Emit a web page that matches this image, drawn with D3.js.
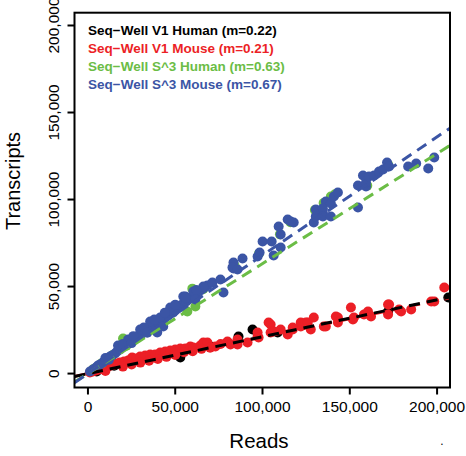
<!DOCTYPE html>
<html>
<head>
<meta charset="utf-8">
<script src="https://d3js.org/d3.v7.min.js"></script>
<style>
  body { margin: 0; background: #fff; }
  text { font-family: "Liberation Sans", Arial, sans-serif; }
</style>
</head>
<body>
<div id="chart"></div>
<script>
// series: [reads, transcripts]
var v1Human = [[5000,1200],[15000,4500],[30000,8000],[45000,11000],[52900,9200],[70150,15525],
  [86250,21275],[94300,25300],[108675,23575],[171925,35650],[206425,43700]];

var v1Mouse = [[1150,575],[2875,1150],[4600,1725],[6325,2300],[8050,2875],[9775,3450],[11500,4025],
  [13225,4600],[14950,5175],[16675,5750],[18400,6325],[20700,6900],[23000,7475],[25300,9200],
  [27600,8625],[29900,9775],[32775,10350],[35650,10925],[38525,10925],[41400,12075],[44275,12650],
  [47150,13225],[50025,13800],[52900,14375],[55775,14375],[58650,15525],[60375,14950],[64400,16100],
  [66125,17825],[68425,17825],[73025,15525],[79925,18400],[81650,16675],[85675,16675],
  [85675,19550],[91425,17825],[97175,21275],[97175,23575],[97750,20700],[103500,29325],[104650,28175],
  [104650,23575],[106375,24150],[110400,25300],[114425,22425],[117300,25300],[117300,26450],
  [121900,27025],[121900,29325],[124775,29325],[125925,29325],[127650,25300],[129375,32200],
  [135125,27025],[136275,27025],[142025,32775],[143175,32200],[143175,29325],[150650,37950],
  [151800,31050],[152375,32200],[158125,33925],[160425,35650],[162150,32775],[171925,39675],
  [171925,33925],[172500,39675],[178250,36800],[179400,35650],[185150,36800],[196650,41400],
  [198375,41400],[204125,49450],
  [10000,1500],[20000,4000],[25000,5200],[30000,6300],[35000,7400],[40000,8400],[45000,9600],
  [50000,10700],[55000,12300],[60000,12800],[65000,14200],[70000,14800],[76000,17000]];

var s3Human = [[3000,2500],[8000,6000],[14000,10500],[20125,20125],[22000,16000],[30000,22000],
  [38000,28000],[45000,33000],[52000,38500],[56925,35650],[61525,38525],[59800,48800],[66000,48500],
  [84000,62000],[98000,69000],[110000,80000],[116000,87000],[130000,94000],[135000,98000],
  [139150,101775],[141500,103000],[160000,108000],[172000,120000]];

var s3Mouse = [[1150,1150],[2875,2300],[4600,3450],[5750,4600],[6900,5175],[8625,6325],[9775,7475],
  [11500,8625],[12650,9775],[13800,10350],[15525,11500],[16675,12650],[18400,13800],[19550,14950],
  [21275,16100],[22425,16675],[24150,17825],[25300,18975],[27025,20125],[28175,21275],[29900,21850],
  [31050,23000],[32775,24150],[33925,25300],[35650,25875],[36800,27025],[38525,28175],[40250,29325],
  [41400,30475],[43125,31050],[44275,32200],[46000,33350],[47150,34500],[48875,35075],[50025,36225],
  [51750,37950],[52900,39100],[54625,40250],[56350,41400],[57500,42550],[58650,43125],[60375,44850],
  [62100,46000],[64400,47725],[66125,48875],[68425,50600],
  [17250,16100],[23000,19550],[29900,25300],[35650,29900],[41400,32200],[47150,37950],[54625,44275],
  [39675,23575],[43125,27025],[55775,44275],[60375,47150],[61525,42550],[66125,50025],[71300,52325],
  [75900,54050],[77625,46575],[83375,63825],[83375,60375],[82800,60950],[85675,59800],[88550,66125],
  [97175,67275],[98325,69575],[106375,67850],[110400,72450],[100050,75900],[105225,75900],
  [110400,79925],[109250,84525],[114425,88550],[117875,86825],[116150,87400],[129375,86825],
  [130525,90275],[134550,92575],[130525,94300],[136275,98900],[134550,94875],[139150,97750],
  [140875,101775],[143175,104075],[134550,90275],[139150,90275],[154675,95450],[154675,108100],
  [159275,107525],[159275,109825],[157550,113850],[161000,113275],[163875,113850],[166750,116150],
  [169050,117300],[171350,121325],[172500,119025],[183425,119025],[188025,120750],[194925,117875],
  [198375,124200],
  [10000,9000],[12000,8000],[20000,17000],[25000,17500],[26000,21500],[32000,26500],[34000,23500],
  [38000,31000],[44000,35000],[50000,39500],[56000,43500],[62000,48000]];

var seriesNames = ["Seq\u2212Well V1 Human (m=0.22)", "Seq\u2212Well V1 Mouse (m=0.21)",
  "Seq\u2212Well S^3 Human (m=0.63)", "Seq\u2212Well S^3 Mouse (m=0.67)"];
var slopes = [0.212, 0.21, 0.632, 0.68];
var colors = ["#000000", "#ec1f26", "#6bbd46", "#3b55a5"];
var xTicks = [0, 50000, 100000, 150000, 200000];
var yTicks = [0, 50000, 100000, 150000, 200000];

var W = 466, H = 456;
var pLeft = 74.5, pRight = 450, pTop = 12.7, pBottom = 387.5;

var svg = d3.select("#chart").append("svg")
  .attr("width", W).attr("height", H);

var x = d3.scaleLinear().domain([-7700, 207400]).range([pLeft, pRight]);
var y = d3.scaleLinear().domain([-8000, 207350]).range([pBottom, pTop]);
var fmt = d3.format(",");

svg.append("clipPath").attr("id", "clip")
  .append("rect").attr("x", pLeft).attr("y", pTop)
  .attr("width", pRight - pLeft).attr("height", pBottom - pTop);

var plot = svg.append("g").attr("clip-path", "url(#clip)");

// points
[v1Human, v1Mouse, s3Human, s3Mouse].forEach(function(data, i) {
  plot.append("g").selectAll("circle")
    .data(data)
    .enter()
    .append("circle")
    .attr("cx", d => x(d[0]))
    .attr("cy", d => y(d[1]))
    .attr("r", 5)
    .attr("fill", colors[i]);
});

// fit lines (red under black)
[1, 0, 2, 3].forEach(function(i) {
  var x0 = x.domain()[0], x1 = x.domain()[1];
  plot.append("line")
    .attr("x1", x(x0)).attr("y1", y(slopes[i] * x0))
    .attr("x2", x(x1)).attr("y2", y(slopes[i] * x1))
    .attr("stroke", colors[i])
    .attr("stroke-width", 3)
    .attr("stroke-dasharray", "11,7");
});

// box
svg.append("rect")
  .attr("x", pLeft).attr("y", pTop)
  .attr("width", pRight - pLeft).attr("height", pBottom - pTop)
  .attr("fill", "none").attr("stroke", "#000").attr("stroke-width", 2);

// x axis
svg.selectAll(".xt").data(xTicks).enter().append("line")
  .attr("x1", d => x(d)).attr("x2", d => x(d))
  .attr("y1", pBottom).attr("y2", pBottom + 7)
  .attr("stroke", "#000").attr("stroke-width", 2);
svg.selectAll(".xl").data(xTicks).enter().append("text")
  .attr("x", d => x(d)).attr("y", 412)
  .attr("text-anchor", "middle")
  .style("font-size", "15.5px")
  .text(d => fmt(d));

// y axis
svg.selectAll(".yt").data(yTicks).enter().append("line")
  .attr("y1", d => y(d)).attr("y2", d => y(d))
  .attr("x1", pLeft - 7).attr("x2", pLeft)
  .attr("stroke", "#000").attr("stroke-width", 2);
svg.selectAll(".yl").data(yTicks).enter().append("text")
  .attr("transform", d => "translate(59," + y(d) + ") rotate(-90)")
  .attr("text-anchor", "middle")
  .style("font-size", "15.5px")
  .text(d => fmt(d));

// axis titles
svg.append("text")
  .attr("x", 259).attr("y", 448)
  .attr("text-anchor", "middle")
  .style("font-size", "20.5px")
  .text("Reads");
svg.append("text")
  .attr("transform", "translate(20,181) rotate(-90)")
  .attr("text-anchor", "middle")
  .style("font-size", "20px")
  .text("Transcripts");
svg.append("text")
  .attr("x", 442).attr("y", 445)
  .attr("text-anchor", "middle")
  .style("font-size", "12px")
  .text(".");

// legend
svg.selectAll(".leg").data(seriesNames).enter().append("text")
  .attr("x", 88)
  .attr("y", (d, i) => 35 + i * 18)
  .attr("fill", (d, i) => colors[i])
  .style("font-size", "13.5px")
  .style("font-weight", "bold")
  .text(d => d);
</script>
</body>
</html>
